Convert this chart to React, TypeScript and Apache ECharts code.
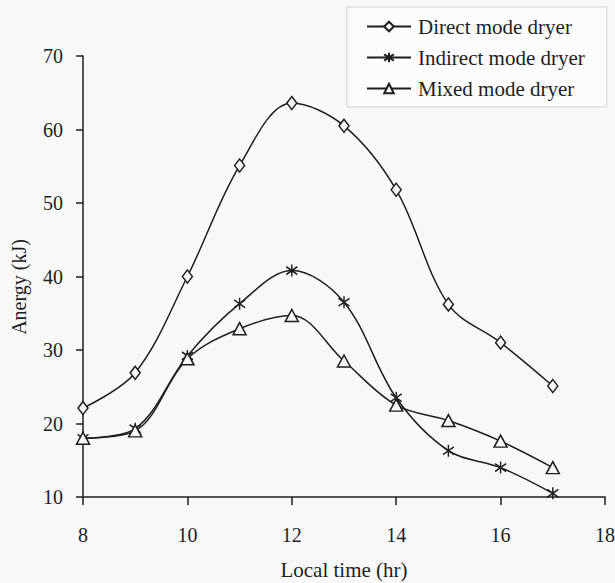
import React, { useEffect, useRef } from "react";
import * as echarts from "echarts";

const hours = [8, 9, 10, 11, 12, 13, 14, 15, 16, 17];
const directMode = [22.1, 26.9, 40.0, 55.1, 63.6, 60.5, 51.8, 36.2, 31.0, 25.1];
const indirectMode = [18.0, 19.3, 29.2, 36.3, 40.8, 36.5, 23.5, 16.3, 14.0, 10.5];
const mixedMode = [18.0, 19.0, 28.8, 32.9, 34.7, 28.5, 22.5, 20.4, 17.6, 14.0];
const seriesNames = ["Direct mode dryer", "Indirect mode dryer", "Mixed mode dryer"];
const xTitle = "Local time (hr)";
const yTitle = "Anergy (kJ)";

const FONT = "'Liberation Serif', 'Times New Roman', serif";
const INK = "#1e1e1e";
const BG = "#f8f8f8";

const asterisk = "path://M10 0 L10 20 M1.5 3.5 L18.5 16.5 M18.5 3.5 L1.5 16.5";

export default function App() {
  const ref = useRef<HTMLDivElement>(null);
  useEffect(() => {
    if (!ref.current) return;
    const chart = echarts.init(ref.current, undefined, { renderer: "svg" });
    const pairs = (vals: number[]) => hours.map((h, i) => [h, vals[i]]);
    const base = {
      type: "line",
      smooth: 0.35,
      lineStyle: { color: INK, width: 1.5 },
      itemStyle: { color: BG, borderColor: INK, borderWidth: 1.5 },
      emphasis: { disabled: true },
    };
    chart.setOption({
      animation: false,
      backgroundColor: BG,
      textStyle: { fontFamily: FONT, color: INK },
      grid: { left: 83, right: 10, top: 56, bottom: 86, containLabel: false, outerBoundsMode: "none" },
      legend: {
        orient: "vertical",
        left: 347,
        top: 7,
        padding: [9, 22, 8, 19],
        itemGap: 10,
        itemWidth: 44,
        itemHeight: 12,
        backgroundColor: "#fcfcfc",
        borderColor: "#d2d2d2",
        borderWidth: 1,
        textStyle: { fontFamily: FONT, fontSize: 21, color: INK, padding: [0, 0, 0, 2] },
        data: seriesNames,
      },
      graphic: [
        {
          type: "text",
          x: 19,
          y: 287,
          rotation: Math.PI / 2,
          style: {
            text: yTitle,
            font: `20px ${FONT}`,
            fill: INK,
            align: "center",
            verticalAlign: "middle",
          },
        },
      ],
      xAxis: {
        type: "value",
        min: 8,
        max: 18,
        interval: 2,
        name: xTitle,
        nameLocation: "middle",
        nameGap: 62,
        nameTextStyle: { fontFamily: FONT, fontSize: 21, color: INK },
        axisLine: { lineStyle: { color: INK, width: 1.5 } },
        axisTick: { inside: false, length: 8, lineStyle: { color: INK, width: 1.5 } },
        axisLabel: { fontFamily: FONT, fontSize: 20, color: INK, margin: 28 },
        splitLine: { show: false },
      },
      yAxis: {
        type: "value",
        min: 10,
        max: 70,
        interval: 10,
        axisLine: { show: true, lineStyle: { color: INK, width: 1.5 } },
        axisTick: { show: true, inside: false, length: 7, lineStyle: { color: INK, width: 1.5 } },
        axisLabel: { fontFamily: FONT, fontSize: 20, color: INK, margin: 20 },
        splitLine: { show: false },
      },
      series: [
        { ...base, name: seriesNames[0], data: pairs(directMode), symbol: "diamond", symbolSize: [10, 13], z: 3 },
        { ...base, name: seriesNames[1], data: pairs(indirectMode), symbol: asterisk, symbolSize: [11, 12], z: 4 },
        { ...base, name: seriesNames[2], data: pairs(mixedMode), symbol: "triangle", symbolSize: [13, 12], z: 5 },
      ],
    });
    return () => chart.dispose();
  }, []);
  return (
    <div
      ref={ref}
      style={{ position: "fixed", left: 0, top: 0, width: 615, height: 583 }}
    />
  );
}
